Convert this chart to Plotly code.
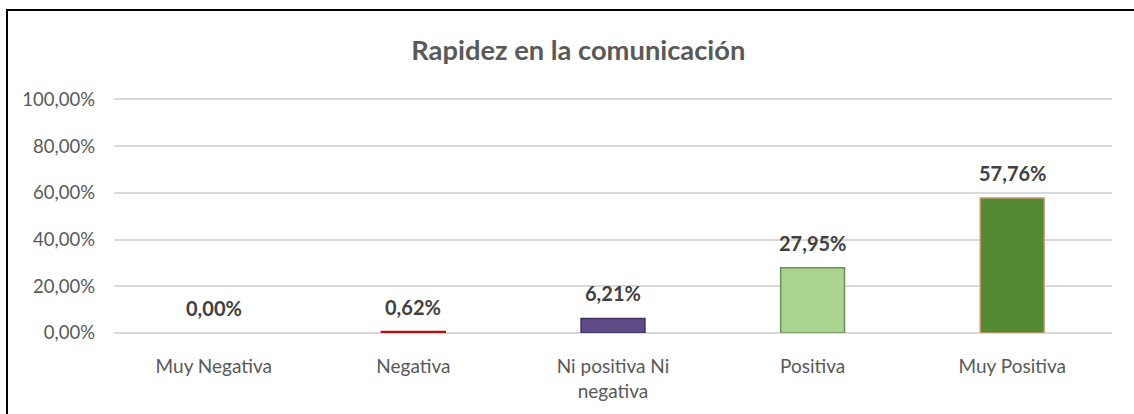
import plotly.graph_objects as go

categories = ["Muy Negativa", "Negativa", "Ni positiva Ni<br>negativa", "Positiva", "Muy Positiva"]
values = [0.0, 0.0062, 0.0621, 0.2795, 0.5776]
bar_colors = ["#5B9BD5", "#E8141B", "#5E4B87", "#A9D38E", "#558A35"]
line_colors = ["rgba(0,0,0,0)", "#B01010", "#3E3060", "#6E8F5A", "#C49A6C"]
title_text = "Rapidez en la comunicación"
y_ticks = [0, 0.2, 0.4, 0.6, 0.8, 1.0]

FONT = "Lato, 'Open Sans', sans-serif"

fig = go.Figure()
fig.add_trace(go.Bar(
    x=categories,
    y=values,
    marker=dict(color=bar_colors, line=dict(color=line_colors, width=1.5)),
    hoverinfo="skip",
))

for c, v in zip(categories, values):
    fig.add_annotation(x=c, y=v, xref="x", yref="y",
                       text="<b>" + f"{v*100:.2f}%".replace(".", ",") + "</b>",
                       showarrow=False, yanchor="bottom", yshift=11,
                       font=dict(family=FONT, size=20, color="#404040"))

fig.update_layout(
    width=1134, height=414,
    margin=dict(l=114, r=22, t=97, b=81),
    paper_bgcolor="white", plot_bgcolor="white",
    separators=",.",
    bargap=0.68,
    showlegend=False,
    title=dict(text="<b>" + title_text + "</b>", x=0.51, xanchor="center",
               y=0.878, yanchor="middle",
               font=dict(family=FONT, size=27.3, color="#595959")),
    font=dict(family=FONT, size=18, color="#595959"),
)
fig.update_yaxes(range=[0, 1.01], tickvals=y_ticks, tickformat=".2%",
                 showgrid=True, gridcolor="#D9D9D9", gridwidth=1.5,
                 zeroline=True, zerolinecolor="#D9D9D9", zerolinewidth=1.5,
                 showline=False, ticks="", ticklabelstandoff=18,
                 tickfont=dict(family=FONT, size=18.5, color="#595959"))
fig.update_xaxes(showline=False, ticks="", showgrid=False, ticklabelstandoff=20,
                 tickfont=dict(family=FONT, size=19, color="#595959"))

fig.add_shape(type="rect", xref="paper", yref="paper",
              x0=(7 - 114) / 998, x1=1.5, y0=-2, y1=1 + (97 - 10) / 236,
              line=dict(color="black", width=2), fillcolor="rgba(0,0,0,0)", layer="above")

fig.write_html("out.html", config={"displayModeBar": False},
               post_script="document.body.style.margin='0';")
